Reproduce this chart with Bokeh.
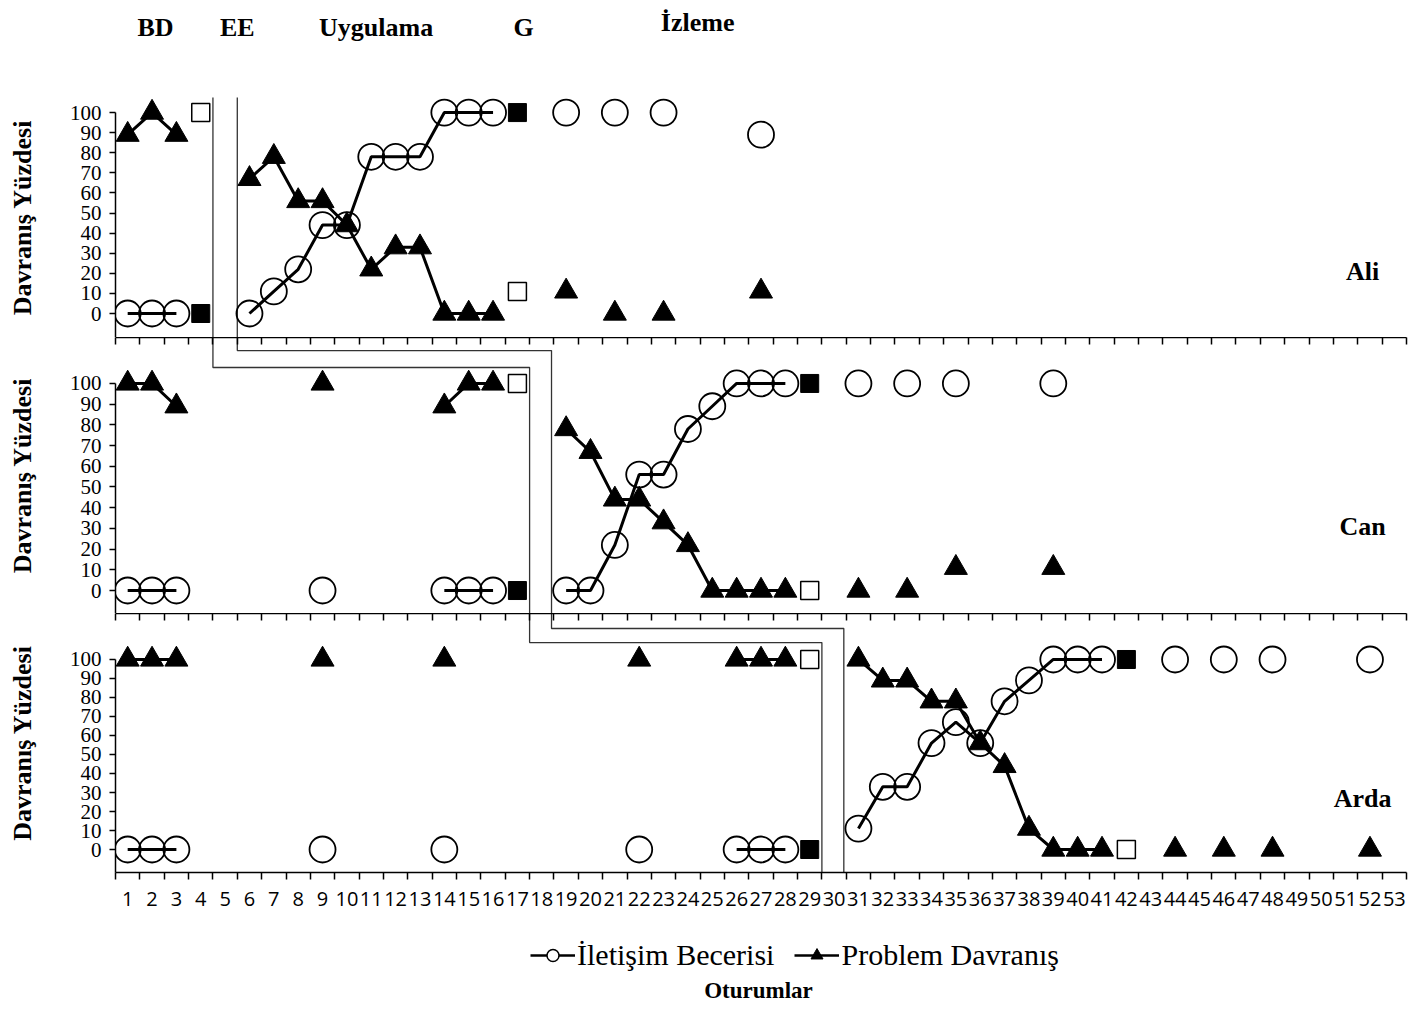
import math
from bokeh.plotting import figure
from bokeh.layouts import column
from bokeh.models import Range1d, FixedTicker, LinearAxis, Legend, LegendItem
from bokeh.embed import file_html
from bokeh.resources import INLINE
from bokeh.core.properties import value

SERIF = "Liberation Serif"
SANS = "Open Sans"

# ------------------------------------------------------------------ data
sessions = list(range(1, 54))
tick_bounds = [s - 0.5 for s in sessions] + [53.5]

# Ali
ali_s = [1, 2, 3, 6, 7, 8, 9, 10, 11, 12, 13, 14, 15, 16, 19, 21, 23, 27]
ali_comm = [0, 0, 0, 0, 11, 22, 44, 44, 78, 78, 78, 100, 100, 100, 100, 100, 100, 89]
ali_prob = [89, 100, 89, 67, 78, 56, 56, 44, 22, 33, 33, 0, 0, 0, 11, 0, 0, 11]
ali_gen_s = [4, 17]
ali_gen_comm = [0, 100]
ali_gen_prob = [100, 11]

# Can
can_s = [1, 2, 3, 9, 14, 15, 16, 19, 20, 21, 22, 23, 24, 25, 26, 27, 28, 31, 33, 35, 39]
can_comm = [0, 0, 0, 0, 0, 0, 0, 0, 0, 22, 56, 56, 78, 89, 100, 100, 100, 100, 100, 100, 100]
can_prob = [100, 100, 89, 100, 89, 100, 100, 78, 67, 44, 44, 33, 22, 0, 0, 0, 0, 0, 0, 11, 11]
can_gen_s = [17, 29]
can_gen_comm = [0, 100]
can_gen_prob = [100, 0]

# Arda
arda_s = [1, 2, 3, 9, 14, 22, 26, 27, 28, 31, 32, 33, 34, 35, 36, 37, 38, 39, 40, 41, 44, 46, 48, 52]
arda_comm = [0, 0, 0, 0, 0, 0, 0, 0, 0, 11, 33, 33, 56, 67, 56, 78, 89, 100, 100, 100, 100, 100, 100, 100]
arda_prob = [100, 100, 100, 100, 100, 100, 100, 100, 100, 100, 89, 89, 78, 78, 56, 44, 11, 0, 0, 0, 0, 0, 0, 0]
arda_gen_s = [29, 42]
arda_gen_comm = [0, 100]
arda_gen_prob = [100, 0]

names = ["Ali", "Can", "Arda"]
name_y = [21, 31, 27]

phase_names = ["BD", "EE", "Uygulama", "G", "İzleme"]
phase_x = [2.14, 5.5, 11.2, 17.25, 24.4]
phase_y = [70, 70, 70, 70, 75]   # pixels above the top of the Ali panel

# phase-change step lines (data coords of each panel)
stepA = [
    ([4.5, 4.5], [130, -30]),
    ([4.5, 4.5, 17.5, 17.5], [140, 107.7, 107.7, -30]),
    ([17.5, 17.5, 29.5, 29.5], [140, 108.9, 108.9, -30]),
]
stepB = [
    ([5.5, 5.5], [130, -30]),
    ([5.5, 5.5, 18.4, 18.4], [140, 115.9, 115.9, -30]),
    ([18.4, 18.4, 30.4, 30.4], [140, 116.3, 116.3, -30]),
]

LEFT = 115
RIGHT = 2
WIDTH = 1408

# ------------------------------------------------------------------ helpers
def broken(xs, ys):
    bx, by = [], []
    prev = None
    for x, y in zip(xs, ys):
        if prev is not None and x - prev > 1:
            bx.append(float("nan"))
            by.append(float("nan"))
        bx.append(x)
        by.append(y)
        prev = x
    return bx, by


def bare(height, x_range, y_range):
    p = figure(width=WIDTH, height=height, x_range=x_range, y_range=y_range,
               output_backend="svg", toolbar_location=None, x_axis_location=None,
               y_axis_location=None, min_border_left=LEFT, min_border_right=RIGHT,
               min_border_top=0, min_border_bottom=0)
    p.outline_line_color = None
    p.grid.visible = False
    return p


def add_top_axis(p):
    ax = LinearAxis(ticker=FixedTicker(ticks=[], minor_ticks=tick_bounds),
                    major_tick_in=0, major_tick_out=0, minor_tick_in=7, minor_tick_out=0,
                    major_label_text_font_size="0px", major_label_standoff=0,
                    axis_line_color="black", axis_line_width=1.5,
                    minor_tick_line_color="black", minor_tick_line_width=1.5)
    p.add_layout(ax, "above")


def make_panel(idx, height, ymin, ymax, s, comm, prob, gs, gc, gp, mbb=0):
    p = figure(width=WIDTH, height=height, x_range=Range1d(0.5, 53.5),
               y_range=Range1d(ymin, ymax), output_backend="svg",
               toolbar_location=None, x_axis_location=None,
               min_border_left=LEFT, min_border_right=RIGHT, min_border_top=0,
               min_border_bottom=mbb)
    p.outline_line_color = None
    p.grid.visible = False
    yax = p.yaxis[0]
    yax.ticker = FixedTicker(ticks=list(range(0, 101, 10)))
    yax.bounds = (ymin, 100)
    yax.major_tick_out = 6
    yax.major_tick_in = 0
    yax.minor_tick_out = 0
    yax.minor_tick_in = 0
    yax.axis_line_color = "black"
    yax.axis_line_width = 1.5
    yax.major_tick_line_color = "black"
    yax.major_tick_line_width = 1.5
    yax.major_label_text_font = SERIF
    yax.major_label_text_font_size = "21px"
    yax.major_label_text_color = "black"
    yax.major_label_standoff = 8
    yax.axis_label = "Davranış Yüzdesi"
    yax.axis_label_text_font = SERIF
    yax.axis_label_text_font_style = "bold"
    yax.axis_label_text_font_size = "26px"
    yax.axis_label_text_color = "black"
    yax.axis_label_standoff = 30

    if idx > 0:
        add_top_axis(p)

    # phase lines
    ax_, ay_ = stepA[idx]
    bx_, by_ = stepB[idx]
    p.line(ax_, ay_, line_color="#333333", line_width=1.3)
    p.line(bx_, by_, line_color="#333333", line_width=1.3)

    cx, cy = broken(s, comm)
    px, py = broken(s, prob)
    p.line(cx, cy, line_color="black", line_width=3)
    p.line(px, py, line_color="black", line_width=3)
    p.scatter(s, comm, marker="circle", size=26, fill_alpha=0,
              line_color="black", line_width=1.8)
    p.scatter(s, prob, marker="triangle", size=23, fill_color="black",
              line_color="black")
    p.scatter(gs, gc, marker="square", size=18, fill_color="black", line_color="black")
    p.scatter(gs, gp, marker="square", size=18, fill_color="white",
              line_color="black", line_width=1.5)

    p.text(x=[51.7], y=[name_y[idx]], text=[names[idx]], text_font=value(SERIF),
           text_font_style="bold", text_font_size="26px", text_color="black",
           text_align="center", text_baseline="middle")
    return p


# phase titles strip
p0 = bare(97, Range1d(0.5, 53.5), Range1d(0, 97))
p0.text(x=phase_x, y=phase_y, text=phase_names, text_font=value(SERIF),
        text_font_style="bold", text_font_size="26px", text_color="black",
        text_align="center", text_baseline="middle")

p1 = make_panel(0, 240, -11.94, 107.5, ali_s, ali_comm, ali_prob,
                ali_gen_s, ali_gen_comm, ali_gen_prob)

p2 = make_panel(1, 276, -11.1, 122.2, can_s, can_comm, can_prob,
                can_gen_s, can_gen_comm, can_gen_prob)

p3 = make_panel(2, 304, -12.1, 124.2, arda_s, arda_comm, arda_prob,
                arda_gen_s, arda_gen_comm, arda_gen_prob, mbb=45)
xb = LinearAxis(ticker=FixedTicker(ticks=sessions, minor_ticks=tick_bounds),
                major_tick_in=0, major_tick_out=0, minor_tick_in=0, minor_tick_out=7,
                major_label_standoff=12, major_label_text_font=SANS,
                major_label_text_font_size="20px", major_label_text_color="black",
                axis_line_color="black", axis_line_width=1.5,
                minor_tick_line_color="black", minor_tick_line_width=1.5)
p3.add_layout(xb, "below")

# legend + x title (pixel-like coordinates inside the aligned frame)
FW = WIDTH - LEFT - RIGHT
p4 = bare(90, Range1d(0, FW), Range1d(0, 90))
nan = [float("nan")]
lc = p4.line(nan, nan, line_color="black", line_width=2.5)
sc = p4.scatter(nan, nan, marker="circle", size=12, fill_color="white",
                line_color="black", line_width=1.5)
lt = p4.line(nan, nan, line_color="black", line_width=2.5)
st = p4.scatter(nan, nan, marker="triangle", size=14, fill_color="black",
                line_color="black")
legend = Legend(items=[LegendItem(label="İletişim Becerisi", renderers=[lc, sc]),
                       LegendItem(label="Problem Davranış", renderers=[lt, st])],
                orientation="horizontal", location=(415, 35),
                label_text_font=SERIF, label_text_font_size="30px",
                label_text_color="black", glyph_width=45, glyph_height=30,
                padding=0, margin=0, spacing=20, label_standoff=2,
                border_line_color=None, background_fill_alpha=0)
p4.add_layout(legend)
p4.text(x=[643], y=[17], text=["Oturumlar"], text_font=value(SERIF),
        text_font_style="bold", text_font_size="23px", text_color="black",
        text_align="center", text_baseline="middle")

layout = column(p0, p1, p2, p3, p4, spacing=0)
open("out.html", "w").write(file_html(layout, INLINE))
